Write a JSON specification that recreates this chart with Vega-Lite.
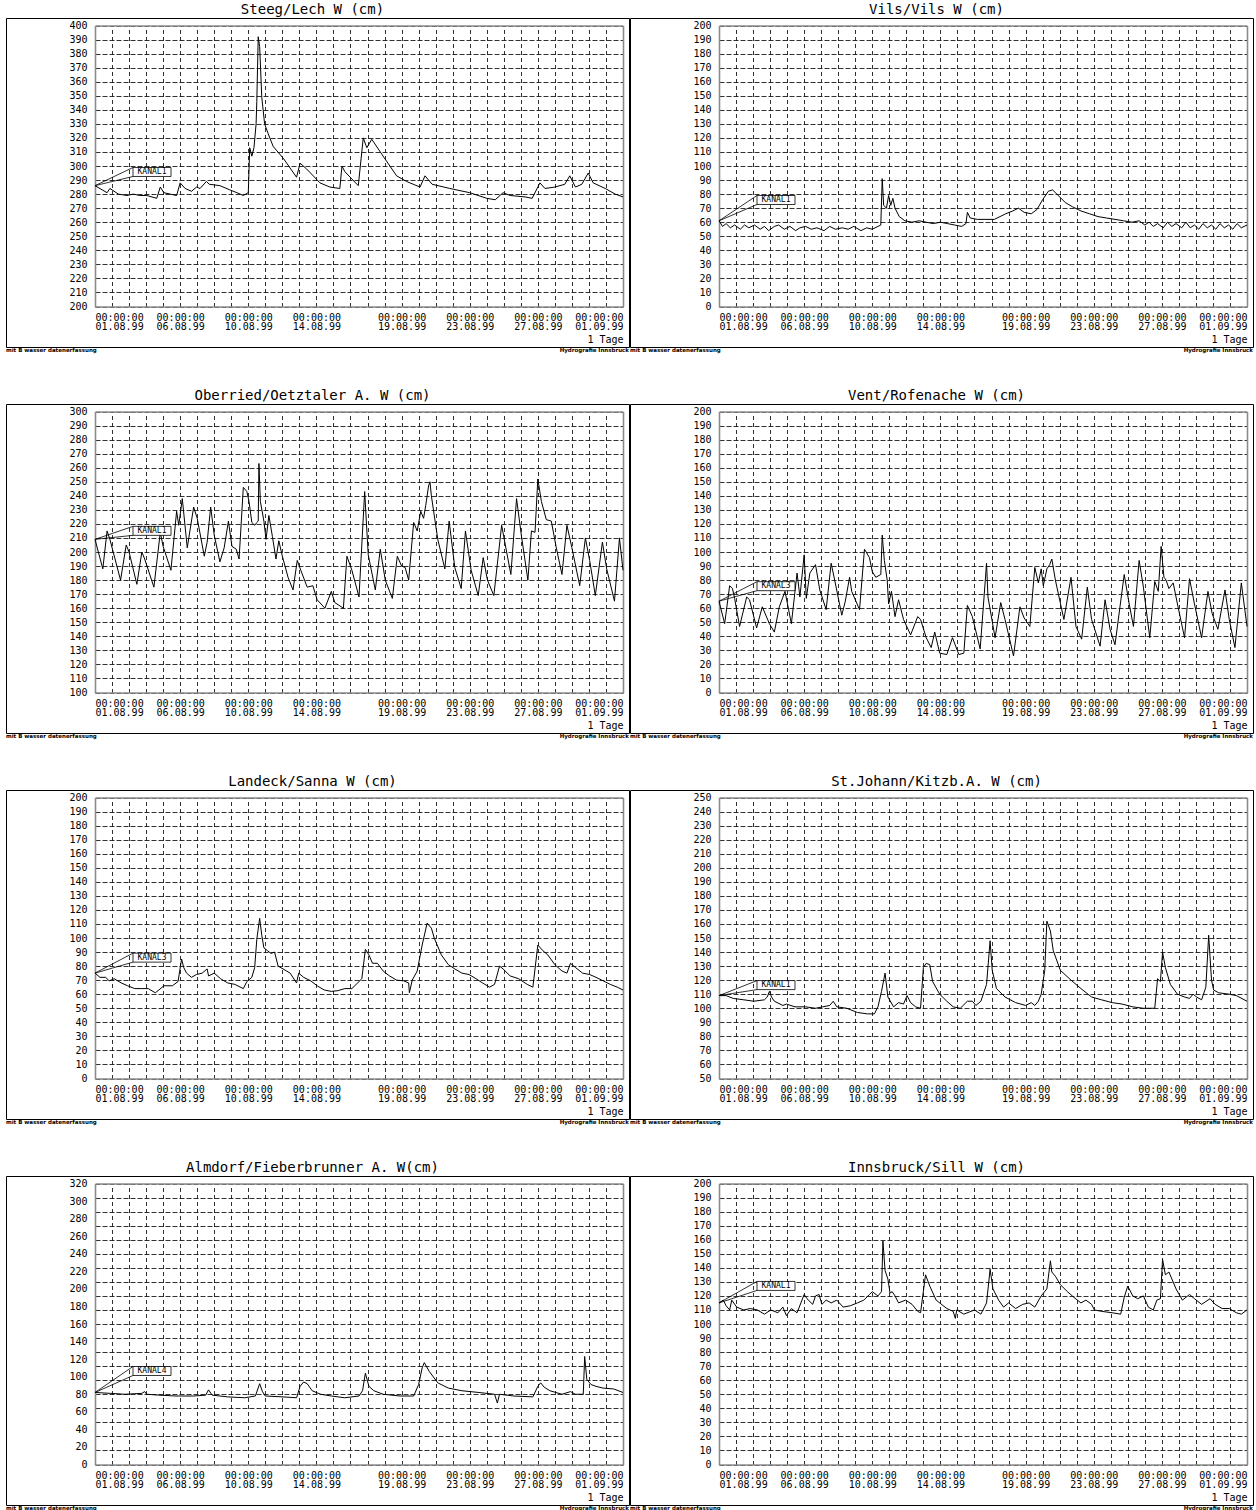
{
"$schema": "https://vega.github.io/schema/vega-lite/v6.json",
"padding": {"left": 5, "top": 0, "right": 0, "bottom": 0},
"background": "white",
"config": {
  "font": "DejaVu Sans Mono",
  "view": {"stroke": "black", "strokeWidth": 1},
  "axis": {"labelFont": "DejaVu Sans Mono", "titleFont": "DejaVu Sans Mono", "labelFontSize": 10, "labelColor": "black", "titleFontSize": 10, "titleFontWeight": "normal", "titleColor": "black", "ticks": false, "domainColor": "#8c8c8c", "domainWidth": 1.6, "gridColor": "#1a1a1a", "gridWidth": 0.9, "gridOpacity": 1}
},
"datasets": {
"steeg": [
{"t":"1999-08-01T00:00","w":286},{"t":"1999-08-01T17:00","w":281},{"t":"1999-08-01T21:00","w":284},{"t":"1999-08-02T09:00","w":280},{"t":"1999-08-02T21:00","w":279},{"t":"1999-08-03T06:00","w":280},{"t":"1999-08-03T15:00","w":279},{"t":"1999-08-04T01:00","w":279},{"t":"1999-08-04T15:00","w":277},{"t":"1999-08-04T20:00","w":285},{"t":"1999-08-05T01:00","w":281},{"t":"1999-08-05T10:00","w":280},{"t":"1999-08-05T19:00","w":279},{"t":"1999-08-06T00:00","w":288},{"t":"1999-08-06T07:00","w":284},{"t":"1999-08-06T16:00","w":282},{"t":"1999-08-06T23:00","w":285},{"t":"1999-08-07T04:00","w":284},{"t":"1999-08-07T13:00","w":289},{"t":"1999-08-07T17:00","w":287},{"t":"1999-08-08T08:00","w":286},{"t":"1999-08-08T22:00","w":283},{"t":"1999-08-09T08:00","w":281},{"t":"1999-08-09T17:00","w":279},{"t":"1999-08-10T00:00","w":281},{"t":"1999-08-10T02:00","w":313},{"t":"1999-08-10T05:00","w":307},{"t":"1999-08-10T08:00","w":313},{"t":"1999-08-10T11:00","w":330},{"t":"1999-08-10T12:00","w":346},{"t":"1999-08-10T14:00","w":392},{"t":"1999-08-10T16:00","w":385},{"t":"1999-08-10T19:00","w":349},{"t":"1999-08-10T23:00","w":330},{"t":"1999-08-11T04:00","w":323},{"t":"1999-08-11T11:00","w":314},{"t":"1999-08-12T02:00","w":305},{"t":"1999-08-12T20:00","w":292},{"t":"1999-08-13T01:00","w":302},{"t":"1999-08-13T10:00","w":298},{"t":"1999-08-14T05:00","w":288},{"t":"1999-08-14T19:00","w":285},{"t":"1999-08-15T09:00","w":284},{"t":"1999-08-15T12:00","w":300},{"t":"1999-08-15T16:00","w":296},{"t":"1999-08-16T11:00","w":286},{"t":"1999-08-16T18:00","w":320},{"t":"1999-08-16T23:00","w":313},{"t":"1999-08-17T06:00","w":319},{"t":"1999-08-17T22:00","w":307},{"t":"1999-08-18T17:00","w":293},{"t":"1999-08-19T07:00","w":289},{"t":"1999-08-20T02:00","w":285},{"t":"1999-08-20T09:00","w":293},{"t":"1999-08-20T19:00","w":287},{"t":"1999-08-21T20:00","w":284},{"t":"1999-08-23T00:00","w":281},{"t":"1999-08-24T00:00","w":277},{"t":"1999-08-24T12:00","w":276},{"t":"1999-08-24T23:00","w":281},{"t":"1999-08-25T09:00","w":279},{"t":"1999-08-26T06:00","w":278},{"t":"1999-08-26T16:00","w":277},{"t":"1999-08-27T03:00","w":288},{"t":"1999-08-27T10:00","w":284},{"t":"1999-08-28T00:00","w":285},{"t":"1999-08-28T14:00","w":287},{"t":"1999-08-28T21:00","w":293},{"t":"1999-08-29T05:00","w":285},{"t":"1999-08-29T14:00","w":287},{"t":"1999-08-29T23:00","w":295},{"t":"1999-08-30T06:00","w":288},{"t":"1999-08-30T23:00","w":284},{"t":"1999-08-31T13:00","w":280},{"t":"1999-09-01T00:00","w":278}
],
"vils": [
{"t":"1999-08-01T00:00","w":61},{"t":"1999-08-01T05:00","w":57},{"t":"1999-08-01T10:00","w":59},{"t":"1999-08-01T16:00","w":56},{"t":"1999-08-01T22:00","w":58},{"t":"1999-08-02T06:00","w":55},{"t":"1999-08-02T12:00","w":58},{"t":"1999-08-02T18:00","w":56},{"t":"1999-08-03T02:00","w":58},{"t":"1999-08-03T10:00","w":55},{"t":"1999-08-03T16:00","w":57},{"t":"1999-08-03T22:00","w":54},{"t":"1999-08-04T06:00","w":57},{"t":"1999-08-04T12:00","w":58},{"t":"1999-08-04T20:00","w":55},{"t":"1999-08-05T04:00","w":57},{"t":"1999-08-05T12:00","w":54},{"t":"1999-08-05T18:00","w":56},{"t":"1999-08-06T02:00","w":57},{"t":"1999-08-06T10:00","w":55},{"t":"1999-08-06T18:00","w":56},{"t":"1999-08-07T04:00","w":54},{"t":"1999-08-07T12:00","w":57},{"t":"1999-08-07T20:00","w":55},{"t":"1999-08-08T06:00","w":56},{"t":"1999-08-08T14:00","w":55},{"t":"1999-08-08T22:00","w":57},{"t":"1999-08-09T08:00","w":54},{"t":"1999-08-09T16:00","w":56},{"t":"1999-08-10T00:00","w":55},{"t":"1999-08-10T08:00","w":57},{"t":"1999-08-10T12:00","w":58},{"t":"1999-08-10T14:00","w":91},{"t":"1999-08-10T16:00","w":72},{"t":"1999-08-10T20:00","w":70},{"t":"1999-08-10T23:00","w":79},{"t":"1999-08-11T02:00","w":72},{"t":"1999-08-11T05:00","w":77},{"t":"1999-08-11T08:00","w":70},{"t":"1999-08-11T14:00","w":64},{"t":"1999-08-11T22:00","w":61},{"t":"1999-08-12T08:00","w":60},{"t":"1999-08-12T18:00","w":61},{"t":"1999-08-13T04:00","w":60},{"t":"1999-08-13T14:00","w":59},{"t":"1999-08-14T00:00","w":60},{"t":"1999-08-14T10:00","w":59},{"t":"1999-08-14T20:00","w":58},{"t":"1999-08-15T06:00","w":57},{"t":"1999-08-15T12:00","w":59},{"t":"1999-08-15T14:00","w":67},{"t":"1999-08-15T18:00","w":63},{"t":"1999-08-16T04:00","w":62},{"t":"1999-08-16T16:00","w":62},{"t":"1999-08-17T04:00","w":62},{"t":"1999-08-17T12:00","w":64},{"t":"1999-08-17T20:00","w":66},{"t":"1999-08-18T06:00","w":68},{"t":"1999-08-18T14:00","w":70},{"t":"1999-08-18T22:00","w":67},{"t":"1999-08-19T08:00","w":66},{"t":"1999-08-19T16:00","w":69},{"t":"1999-08-20T00:00","w":76},{"t":"1999-08-20T08:00","w":82},{"t":"1999-08-20T14:00","w":83},{"t":"1999-08-20T22:00","w":79},{"t":"1999-08-21T08:00","w":74},{"t":"1999-08-21T18:00","w":71},{"t":"1999-08-22T06:00","w":68},{"t":"1999-08-22T18:00","w":66},{"t":"1999-08-23T06:00","w":64},{"t":"1999-08-23T18:00","w":63},{"t":"1999-08-24T06:00","w":62},{"t":"1999-08-24T18:00","w":61},{"t":"1999-08-25T06:00","w":60},{"t":"1999-08-25T16:00","w":61},{"t":"1999-08-26T00:00","w":58},{"t":"1999-08-26T06:00","w":60},{"t":"1999-08-26T12:00","w":57},{"t":"1999-08-26T18:00","w":59},{"t":"1999-08-27T02:00","w":56},{"t":"1999-08-27T08:00","w":60},{"t":"1999-08-27T14:00","w":57},{"t":"1999-08-27T20:00","w":59},{"t":"1999-08-28T04:00","w":56},{"t":"1999-08-28T10:00","w":60},{"t":"1999-08-28T16:00","w":56},{"t":"1999-08-28T22:00","w":58},{"t":"1999-08-29T04:00","w":55},{"t":"1999-08-29T10:00","w":59},{"t":"1999-08-29T16:00","w":56},{"t":"1999-08-29T22:00","w":58},{"t":"1999-08-30T04:00","w":55},{"t":"1999-08-30T10:00","w":59},{"t":"1999-08-30T16:00","w":56},{"t":"1999-08-30T22:00","w":58},{"t":"1999-08-31T04:00","w":55},{"t":"1999-08-31T10:00","w":59},{"t":"1999-08-31T16:00","w":56},{"t":"1999-09-01T00:00","w":58}
],
"oberried": [
{"t":"1999-08-01T00:00","w":209},{"t":"1999-08-01T11:00","w":188},{"t":"1999-08-01T17:00","w":215},{"t":"1999-08-01T21:00","w":209},{"t":"1999-08-02T12:00","w":180},{"t":"1999-08-02T20:00","w":205},{"t":"1999-08-03T00:00","w":200},{"t":"1999-08-03T11:00","w":177},{"t":"1999-08-03T18:00","w":200},{"t":"1999-08-03T22:00","w":195},{"t":"1999-08-04T11:00","w":175},{"t":"1999-08-04T20:00","w":214},{"t":"1999-08-05T00:00","w":204},{"t":"1999-08-05T11:00","w":187},{"t":"1999-08-05T19:00","w":229},{"t":"1999-08-05T22:00","w":219},{"t":"1999-08-06T03:00","w":238},{"t":"1999-08-06T10:00","w":203},{"t":"1999-08-06T19:00","w":232},{"t":"1999-08-07T00:00","w":224},{"t":"1999-08-07T10:00","w":197},{"t":"1999-08-07T14:00","w":207},{"t":"1999-08-07T19:00","w":232},{"t":"1999-08-08T00:00","w":212},{"t":"1999-08-08T08:00","w":193},{"t":"1999-08-08T14:00","w":203},{"t":"1999-08-08T20:00","w":222},{"t":"1999-08-09T01:00","w":204},{"t":"1999-08-09T07:00","w":202},{"t":"1999-08-09T11:00","w":195},{"t":"1999-08-09T17:00","w":246},{"t":"1999-08-09T22:00","w":243},{"t":"1999-08-10T01:00","w":236},{"t":"1999-08-10T05:00","w":221},{"t":"1999-08-10T09:00","w":219},{"t":"1999-08-10T12:00","w":221},{"t":"1999-08-10T14:00","w":222},{"t":"1999-08-10T15:00","w":263},{"t":"1999-08-10T17:00","w":236},{"t":"1999-08-10T22:00","w":222},{"t":"1999-08-11T01:00","w":209},{"t":"1999-08-11T05:00","w":226},{"t":"1999-08-11T10:00","w":211},{"t":"1999-08-11T15:00","w":195},{"t":"1999-08-11T19:00","w":208},{"t":"1999-08-12T00:00","w":197},{"t":"1999-08-12T08:00","w":182},{"t":"1999-08-12T15:00","w":173},{"t":"1999-08-12T21:00","w":194},{"t":"1999-08-13T02:00","w":187},{"t":"1999-08-13T11:00","w":175},{"t":"1999-08-13T19:00","w":176},{"t":"1999-08-14T01:00","w":166},{"t":"1999-08-14T12:00","w":160},{"t":"1999-08-14T21:00","w":172},{"t":"1999-08-15T02:00","w":164},{"t":"1999-08-15T14:00","w":160},{"t":"1999-08-15T19:00","w":197},{"t":"1999-08-16T02:00","w":187},{"t":"1999-08-16T12:00","w":168},{"t":"1999-08-16T20:00","w":243},{"t":"1999-08-17T01:00","w":198},{"t":"1999-08-17T11:00","w":173},{"t":"1999-08-17T18:00","w":202},{"t":"1999-08-18T01:00","w":180},{"t":"1999-08-18T11:00","w":167},{"t":"1999-08-18T18:00","w":197},{"t":"1999-08-19T00:00","w":190},{"t":"1999-08-19T05:00","w":189},{"t":"1999-08-19T10:00","w":180},{"t":"1999-08-19T17:00","w":221},{"t":"1999-08-19T22:00","w":215},{"t":"1999-08-20T03:00","w":229},{"t":"1999-08-20T07:00","w":224},{"t":"1999-08-20T10:00","w":233},{"t":"1999-08-20T14:00","w":247},{"t":"1999-08-20T16:00","w":250},{"t":"1999-08-20T18:00","w":240},{"t":"1999-08-21T03:00","w":209},{"t":"1999-08-21T13:00","w":188},{"t":"1999-08-21T19:00","w":222},{"t":"1999-08-22T03:00","w":189},{"t":"1999-08-22T12:00","w":174},{"t":"1999-08-22T18:00","w":215},{"t":"1999-08-23T02:00","w":187},{"t":"1999-08-23T12:00","w":169},{"t":"1999-08-23T19:00","w":196},{"t":"1999-08-24T01:00","w":180},{"t":"1999-08-24T10:00","w":169},{"t":"1999-08-24T21:00","w":219},{"t":"1999-08-25T10:00","w":184},{"t":"1999-08-25T18:00","w":238},{"t":"1999-08-26T01:00","w":211},{"t":"1999-08-26T10:00","w":180},{"t":"1999-08-26T15:00","w":215},{"t":"1999-08-26T20:00","w":214},{"t":"1999-08-27T00:00","w":252},{"t":"1999-08-27T05:00","w":236},{"t":"1999-08-27T12:00","w":223},{"t":"1999-08-27T19:00","w":222},{"t":"1999-08-28T02:00","w":203},{"t":"1999-08-28T10:00","w":184},{"t":"1999-08-28T17:00","w":219},{"t":"1999-08-29T00:00","w":203},{"t":"1999-08-29T11:00","w":176},{"t":"1999-08-29T19:00","w":210},{"t":"1999-08-30T01:00","w":194},{"t":"1999-08-30T09:00","w":169},{"t":"1999-08-30T19:00","w":207},{"t":"1999-08-31T01:00","w":188},{"t":"1999-08-31T12:00","w":165},{"t":"1999-08-31T19:00","w":210},{"t":"1999-09-01T00:00","w":187}
],
"vent": [
{"t":"1999-08-01T00:00","w":65},{"t":"1999-08-01T08:00","w":49},{"t":"1999-08-01T15:00","w":76},{"t":"1999-08-01T19:00","w":74},{"t":"1999-08-01T22:00","w":67},{"t":"1999-08-02T05:00","w":47},{"t":"1999-08-02T15:00","w":68},{"t":"1999-08-02T19:00","w":66},{"t":"1999-08-03T05:00","w":46},{"t":"1999-08-03T13:00","w":61},{"t":"1999-08-03T23:00","w":49},{"t":"1999-08-04T06:00","w":43},{"t":"1999-08-04T13:00","w":61},{"t":"1999-08-04T21:00","w":72},{"t":"1999-08-05T06:00","w":49},{"t":"1999-08-05T14:00","w":85},{"t":"1999-08-05T18:00","w":68},{"t":"1999-08-06T00:00","w":98},{"t":"1999-08-06T03:00","w":67},{"t":"1999-08-06T08:00","w":85},{"t":"1999-08-06T16:00","w":91},{"t":"1999-08-06T22:00","w":73},{"t":"1999-08-07T07:00","w":59},{"t":"1999-08-07T14:00","w":92},{"t":"1999-08-07T19:00","w":80},{"t":"1999-08-08T05:00","w":55},{"t":"1999-08-08T10:00","w":65},{"t":"1999-08-08T16:00","w":82},{"t":"1999-08-08T19:00","w":72},{"t":"1999-08-09T06:00","w":59},{"t":"1999-08-09T13:00","w":102},{"t":"1999-08-09T20:00","w":96},{"t":"1999-08-10T00:00","w":86},{"t":"1999-08-10T05:00","w":82},{"t":"1999-08-10T12:00","w":84},{"t":"1999-08-10T14:00","w":112},{"t":"1999-08-10T17:00","w":94},{"t":"1999-08-10T21:00","w":80},{"t":"1999-08-10T23:00","w":63},{"t":"1999-08-11T03:00","w":72},{"t":"1999-08-11T08:00","w":54},{"t":"1999-08-11T13:00","w":66},{"t":"1999-08-11T20:00","w":52},{"t":"1999-08-12T06:00","w":41},{"t":"1999-08-12T16:00","w":54},{"t":"1999-08-12T20:00","w":52},{"t":"1999-08-13T04:00","w":39},{"t":"1999-08-13T11:00","w":32},{"t":"1999-08-13T16:00","w":43},{"t":"1999-08-13T23:00","w":28},{"t":"1999-08-14T09:00","w":27},{"t":"1999-08-14T17:00","w":39},{"t":"1999-08-15T02:00","w":27},{"t":"1999-08-15T09:00","w":28},{"t":"1999-08-15T14:00","w":62},{"t":"1999-08-15T21:00","w":54},{"t":"1999-08-16T08:00","w":31},{"t":"1999-08-16T17:00","w":92},{"t":"1999-08-16T19:00","w":68},{"t":"1999-08-17T05:00","w":39},{"t":"1999-08-17T13:00","w":64},{"t":"1999-08-17T19:00","w":52},{"t":"1999-08-18T07:00","w":26},{"t":"1999-08-18T16:00","w":61},{"t":"1999-08-18T22:00","w":53},{"t":"1999-08-19T06:00","w":47},{"t":"1999-08-19T13:00","w":89},{"t":"1999-08-19T18:00","w":78},{"t":"1999-08-19T22:00","w":88},{"t":"1999-08-20T01:00","w":76},{"t":"1999-08-20T06:00","w":88},{"t":"1999-08-20T10:00","w":91},{"t":"1999-08-20T13:00","w":95},{"t":"1999-08-20T18:00","w":80},{"t":"1999-08-21T06:00","w":52},{"t":"1999-08-21T16:00","w":82},{"t":"1999-08-21T23:00","w":47},{"t":"1999-08-22T07:00","w":38},{"t":"1999-08-22T15:00","w":75},{"t":"1999-08-22T21:00","w":52},{"t":"1999-08-23T09:00","w":33},{"t":"1999-08-23T16:00","w":66},{"t":"1999-08-23T23:00","w":45},{"t":"1999-08-24T06:00","w":34},{"t":"1999-08-24T19:00","w":84},{"t":"1999-08-25T02:00","w":63},{"t":"1999-08-25T08:00","w":47},{"t":"1999-08-25T16:00","w":94},{"t":"1999-08-25T22:00","w":75},{"t":"1999-08-26T07:00","w":39},{"t":"1999-08-26T14:00","w":79},{"t":"1999-08-26T19:00","w":72},{"t":"1999-08-26T23:00","w":104},{"t":"1999-08-27T03:00","w":82},{"t":"1999-08-27T06:00","w":80},{"t":"1999-08-27T10:00","w":74},{"t":"1999-08-27T16:00","w":78},{"t":"1999-08-27T22:00","w":63},{"t":"1999-08-28T08:00","w":39},{"t":"1999-08-28T15:00","w":81},{"t":"1999-08-28T22:00","w":63},{"t":"1999-08-29T08:00","w":39},{"t":"1999-08-29T17:00","w":72},{"t":"1999-08-29T23:00","w":56},{"t":"1999-08-30T07:00","w":45},{"t":"1999-08-30T17:00","w":73},{"t":"1999-08-30T23:00","w":52},{"t":"1999-08-31T07:00","w":32},{"t":"1999-08-31T16:00","w":78},{"t":"1999-09-01T00:00","w":47}
],
"landeck": [
{"t":"1999-08-01T00:00","w":75},{"t":"1999-08-01T07:00","w":72},{"t":"1999-08-01T15:00","w":72},{"t":"1999-08-01T20:00","w":69.5},{"t":"1999-08-02T03:00","w":71},{"t":"1999-08-02T13:00","w":68},{"t":"1999-08-02T22:00","w":66},{"t":"1999-08-03T08:00","w":64},{"t":"1999-08-03T18:00","w":64},{"t":"1999-08-04T03:00","w":64},{"t":"1999-08-04T13:00","w":61},{"t":"1999-08-04T18:00","w":63},{"t":"1999-08-05T01:00","w":66},{"t":"1999-08-05T13:00","w":66},{"t":"1999-08-05T21:00","w":69},{"t":"1999-08-06T02:00","w":85},{"t":"1999-08-06T05:00","w":79},{"t":"1999-08-06T09:00","w":75},{"t":"1999-08-06T16:00","w":72},{"t":"1999-08-06T23:00","w":74},{"t":"1999-08-07T07:00","w":75},{"t":"1999-08-07T14:00","w":78},{"t":"1999-08-07T16:00","w":73},{"t":"1999-08-08T00:00","w":75},{"t":"1999-08-08T09:00","w":71},{"t":"1999-08-08T19:00","w":68},{"t":"1999-08-09T05:00","w":67},{"t":"1999-08-09T17:00","w":64},{"t":"1999-08-09T22:00","w":69},{"t":"1999-08-10T05:00","w":72},{"t":"1999-08-10T09:00","w":79},{"t":"1999-08-10T12:00","w":99},{"t":"1999-08-10T16:00","w":114},{"t":"1999-08-10T19:00","w":102},{"t":"1999-08-10T22:00","w":93},{"t":"1999-08-11T03:00","w":91},{"t":"1999-08-11T08:00","w":89},{"t":"1999-08-11T13:00","w":90},{"t":"1999-08-11T18:00","w":80},{"t":"1999-08-12T01:00","w":78},{"t":"1999-08-12T11:00","w":75},{"t":"1999-08-12T20:00","w":68},{"t":"1999-08-12T23:00","w":75},{"t":"1999-08-13T06:00","w":72},{"t":"1999-08-13T16:00","w":69.5},{"t":"1999-08-14T01:00","w":66},{"t":"1999-08-14T11:00","w":63},{"t":"1999-08-14T21:00","w":62},{"t":"1999-08-15T06:00","w":62.5},{"t":"1999-08-15T16:00","w":64},{"t":"1999-08-16T02:00","w":64},{"t":"1999-08-16T16:00","w":71},{"t":"1999-08-16T21:00","w":92},{"t":"1999-08-17T02:00","w":88},{"t":"1999-08-17T07:00","w":82},{"t":"1999-08-17T14:00","w":82},{"t":"1999-08-17T22:00","w":76.5},{"t":"1999-08-18T07:00","w":73},{"t":"1999-08-18T17:00","w":70},{"t":"1999-08-19T03:00","w":69.5},{"t":"1999-08-19T10:00","w":68},{"t":"1999-08-19T11:00","w":61},{"t":"1999-08-19T15:00","w":70},{"t":"1999-08-19T22:00","w":76.5},{"t":"1999-08-20T05:00","w":95},{"t":"1999-08-20T12:00","w":110.6},{"t":"1999-08-20T18:00","w":107},{"t":"1999-08-20T22:00","w":100},{"t":"1999-08-21T08:00","w":88},{"t":"1999-08-21T18:00","w":81},{"t":"1999-08-22T03:00","w":78},{"t":"1999-08-22T13:00","w":75},{"t":"1999-08-22T23:00","w":74},{"t":"1999-08-23T09:00","w":71},{"t":"1999-08-23T18:00","w":68},{"t":"1999-08-24T04:00","w":65},{"t":"1999-08-24T11:00","w":67},{"t":"1999-08-24T18:00","w":80},{"t":"1999-08-24T23:00","w":78},{"t":"1999-08-25T09:00","w":73},{"t":"1999-08-25T21:00","w":71},{"t":"1999-08-26T09:00","w":67},{"t":"1999-08-26T17:00","w":65},{"t":"1999-08-27T00:00","w":95},{"t":"1999-08-27T07:00","w":91},{"t":"1999-08-27T14:00","w":88},{"t":"1999-08-28T00:00","w":81},{"t":"1999-08-28T10:00","w":76.5},{"t":"1999-08-28T17:00","w":75},{"t":"1999-08-28T22:00","w":82},{"t":"1999-08-29T05:00","w":79},{"t":"1999-08-29T15:00","w":75},{"t":"1999-08-30T01:00","w":74},{"t":"1999-08-30T10:00","w":72},{"t":"1999-08-30T20:00","w":69.5},{"t":"1999-08-31T06:00","w":67},{"t":"1999-08-31T16:00","w":65},{"t":"1999-09-01T00:00","w":63}
],
"stjohann": [
{"t":"1999-08-01T00:00","w":109},{"t":"1999-08-01T10:00","w":109},{"t":"1999-08-01T20:00","w":107},{"t":"1999-08-02T11:00","w":106},{"t":"1999-08-03T01:00","w":105},{"t":"1999-08-03T16:00","w":106},{"t":"1999-08-03T20:00","w":108},{"t":"1999-08-03T23:00","w":112},{"t":"1999-08-04T02:00","w":108},{"t":"1999-08-04T06:00","w":105},{"t":"1999-08-04T18:00","w":102},{"t":"1999-08-04T23:00","w":103},{"t":"1999-08-05T11:00","w":101},{"t":"1999-08-06T02:00","w":101},{"t":"1999-08-06T16:00","w":100},{"t":"1999-08-07T02:00","w":101},{"t":"1999-08-07T12:00","w":102},{"t":"1999-08-07T17:00","w":105},{"t":"1999-08-07T22:00","w":101},{"t":"1999-08-08T12:00","w":100},{"t":"1999-08-09T03:00","w":97},{"t":"1999-08-09T17:00","w":96},{"t":"1999-08-10T03:00","w":96},{"t":"1999-08-10T08:00","w":101},{"t":"1999-08-10T13:00","w":112},{"t":"1999-08-10T18:00","w":125},{"t":"1999-08-10T22:00","w":108},{"t":"1999-08-11T06:00","w":101},{"t":"1999-08-11T13:00","w":104},{"t":"1999-08-11T20:00","w":103},{"t":"1999-08-12T01:00","w":109},{"t":"1999-08-12T06:00","w":104},{"t":"1999-08-12T13:00","w":101},{"t":"1999-08-12T20:00","w":100},{"t":"1999-08-13T00:00","w":129},{"t":"1999-08-13T04:00","w":132},{"t":"1999-08-13T09:00","w":131},{"t":"1999-08-13T13:00","w":119},{"t":"1999-08-13T23:00","w":110},{"t":"1999-08-14T09:00","w":105},{"t":"1999-08-14T18:00","w":101},{"t":"1999-08-15T04:00","w":100},{"t":"1999-08-15T14:00","w":105},{"t":"1999-08-15T21:00","w":105},{"t":"1999-08-16T02:00","w":102},{"t":"1999-08-16T09:00","w":105},{"t":"1999-08-16T17:00","w":117},{"t":"1999-08-16T22:00","w":148},{"t":"1999-08-17T01:00","w":127},{"t":"1999-08-17T07:00","w":114},{"t":"1999-08-17T19:00","w":108},{"t":"1999-08-18T10:00","w":104},{"t":"1999-08-19T00:00","w":102},{"t":"1999-08-19T08:00","w":104},{"t":"1999-08-19T13:00","w":102},{"t":"1999-08-19T18:00","w":105},{"t":"1999-08-19T22:00","w":110},{"t":"1999-08-20T03:00","w":127},{"t":"1999-08-20T06:00","w":162},{"t":"1999-08-20T11:00","w":155},{"t":"1999-08-20T15:00","w":141},{"t":"1999-08-21T01:00","w":127},{"t":"1999-08-21T16:00","w":120},{"t":"1999-08-22T06:00","w":114},{"t":"1999-08-22T21:00","w":108},{"t":"1999-08-23T11:00","w":106},{"t":"1999-08-24T02:00","w":104},{"t":"1999-08-24T16:00","w":103},{"t":"1999-08-25T07:00","w":101},{"t":"1999-08-25T22:00","w":100},{"t":"1999-08-26T14:00","w":100},{"t":"1999-08-26T18:00","w":121},{"t":"1999-08-26T22:00","w":119},{"t":"1999-08-27T01:00","w":140},{"t":"1999-08-27T05:00","w":129},{"t":"1999-08-27T12:00","w":117},{"t":"1999-08-27T22:00","w":110},{"t":"1999-08-28T08:00","w":108},{"t":"1999-08-28T15:00","w":107},{"t":"1999-08-28T20:00","w":110},{"t":"1999-08-29T01:00","w":108},{"t":"1999-08-29T08:00","w":106},{"t":"1999-08-29T14:00","w":115},{"t":"1999-08-29T18:00","w":152},{"t":"1999-08-29T22:00","w":120},{"t":"1999-08-30T01:00","w":113},{"t":"1999-08-30T08:00","w":111},{"t":"1999-08-30T23:00","w":110},{"t":"1999-08-31T09:00","w":109},{"t":"1999-09-01T00:00","w":105}
],
"almdorf": [
{"t":"1999-08-01T00:00","w":82},{"t":"1999-08-01T22:00","w":81},{"t":"1999-08-02T18:00","w":80},{"t":"1999-08-03T18:00","w":81},{"t":"1999-08-03T22:00","w":83},{"t":"1999-08-04T01:00","w":80},{"t":"1999-08-04T18:00","w":79},{"t":"1999-08-05T18:00","w":78},{"t":"1999-08-06T19:00","w":78},{"t":"1999-08-07T12:00","w":79},{"t":"1999-08-07T16:00","w":85},{"t":"1999-08-07T21:00","w":79},{"t":"1999-08-08T19:00","w":77},{"t":"1999-08-09T19:00","w":76},{"t":"1999-08-10T10:00","w":78},{"t":"1999-08-10T16:00","w":92},{"t":"1999-08-10T20:00","w":83},{"t":"1999-08-11T00:00","w":78},{"t":"1999-08-12T01:00","w":77},{"t":"1999-08-12T20:00","w":76},{"t":"1999-08-13T01:00","w":89},{"t":"1999-08-13T06:00","w":94},{"t":"1999-08-13T11:00","w":92},{"t":"1999-08-13T18:00","w":84},{"t":"1999-08-14T06:00","w":80},{"t":"1999-08-14T21:00","w":78},{"t":"1999-08-15T16:00","w":76},{"t":"1999-08-16T12:00","w":78},{"t":"1999-08-16T17:00","w":84},{"t":"1999-08-16T21:00","w":104},{"t":"1999-08-17T02:00","w":89},{"t":"1999-08-17T09:00","w":84},{"t":"1999-08-17T22:00","w":80},{"t":"1999-08-18T22:00","w":78},{"t":"1999-08-19T17:00","w":78},{"t":"1999-08-20T00:00","w":91},{"t":"1999-08-20T05:00","w":110},{"t":"1999-08-20T08:00","w":116},{"t":"1999-08-20T15:00","w":106},{"t":"1999-08-21T03:00","w":93},{"t":"1999-08-21T18:00","w":87},{"t":"1999-08-22T13:00","w":84},{"t":"1999-08-23T13:00","w":82},{"t":"1999-08-24T11:00","w":80},{"t":"1999-08-24T15:00","w":70},{"t":"1999-08-24T18:00","w":80},{"t":"1999-08-25T14:00","w":78},{"t":"1999-08-26T17:00","w":77},{"t":"1999-08-27T00:00","w":89},{"t":"1999-08-27T04:00","w":93},{"t":"1999-08-27T09:00","w":88},{"t":"1999-08-27T17:00","w":84},{"t":"1999-08-28T10:00","w":80},{"t":"1999-08-28T22:00","w":83},{"t":"1999-08-29T05:00","w":80},{"t":"1999-08-29T16:00","w":80},{"t":"1999-08-29T18:00","w":123},{"t":"1999-08-29T21:00","w":97},{"t":"1999-08-30T03:00","w":91},{"t":"1999-08-30T10:00","w":89},{"t":"1999-08-30T20:00","w":87},{"t":"1999-08-31T11:00","w":86},{"t":"1999-09-01T00:00","w":82}
],
"innsbruck": [
{"t":"1999-08-01T00:00","w":115},{"t":"1999-08-01T06:00","w":117},{"t":"1999-08-01T10:00","w":113},{"t":"1999-08-01T15:00","w":110},{"t":"1999-08-01T18:00","w":117},{"t":"1999-08-02T01:00","w":112},{"t":"1999-08-02T11:00","w":110},{"t":"1999-08-02T20:00","w":111},{"t":"1999-08-03T06:00","w":110},{"t":"1999-08-03T16:00","w":107},{"t":"1999-08-04T01:00","w":110},{"t":"1999-08-04T11:00","w":108},{"t":"1999-08-04T18:00","w":112},{"t":"1999-08-04T23:00","w":106},{"t":"1999-08-05T06:00","w":111},{"t":"1999-08-05T14:00","w":108},{"t":"1999-08-06T00:00","w":121},{"t":"1999-08-06T04:00","w":118},{"t":"1999-08-06T12:00","w":114},{"t":"1999-08-06T16:00","w":120},{"t":"1999-08-06T21:00","w":121},{"t":"1999-08-07T01:00","w":114},{"t":"1999-08-07T07:00","w":117},{"t":"1999-08-07T14:00","w":115},{"t":"1999-08-07T22:00","w":117},{"t":"1999-08-08T07:00","w":112},{"t":"1999-08-08T17:00","w":113},{"t":"1999-08-09T03:00","w":115},{"t":"1999-08-09T12:00","w":117},{"t":"1999-08-09T20:00","w":121},{"t":"1999-08-10T00:00","w":123},{"t":"1999-08-10T08:00","w":120},{"t":"1999-08-10T13:00","w":123},{"t":"1999-08-10T15:00","w":159},{"t":"1999-08-10T18:00","w":138},{"t":"1999-08-10T22:00","w":132},{"t":"1999-08-11T01:00","w":122},{"t":"1999-08-11T04:00","w":123},{"t":"1999-08-11T08:00","w":120},{"t":"1999-08-11T13:00","w":115},{"t":"1999-08-11T23:00","w":117},{"t":"1999-08-12T08:00","w":114},{"t":"1999-08-12T16:00","w":109},{"t":"1999-08-12T20:00","w":108},{"t":"1999-08-13T03:00","w":135},{"t":"1999-08-13T09:00","w":127},{"t":"1999-08-13T18:00","w":117},{"t":"1999-08-14T09:00","w":111},{"t":"1999-08-14T18:00","w":109},{"t":"1999-08-14T21:00","w":104},{"t":"1999-08-14T23:00","w":110},{"t":"1999-08-15T09:00","w":107},{"t":"1999-08-16T00:00","w":110},{"t":"1999-08-16T09:00","w":107},{"t":"1999-08-16T17:00","w":115},{"t":"1999-08-16T22:00","w":139},{"t":"1999-08-17T02:00","w":125},{"t":"1999-08-17T10:00","w":117},{"t":"1999-08-17T17:00","w":112},{"t":"1999-08-18T00:00","w":115},{"t":"1999-08-18T10:00","w":111},{"t":"1999-08-18T20:00","w":114},{"t":"1999-08-19T05:00","w":115},{"t":"1999-08-19T13:00","w":112},{"t":"1999-08-19T22:00","w":120},{"t":"1999-08-20T06:00","w":125},{"t":"1999-08-20T11:00","w":145},{"t":"1999-08-20T13:00","w":137},{"t":"1999-08-20T18:00","w":134},{"t":"1999-08-21T01:00","w":128},{"t":"1999-08-21T11:00","w":123},{"t":"1999-08-21T20:00","w":119},{"t":"1999-08-22T06:00","w":115},{"t":"1999-08-22T13:00","w":117},{"t":"1999-08-22T21:00","w":114},{"t":"1999-08-23T01:00","w":110},{"t":"1999-08-23T11:00","w":109},{"t":"1999-08-24T02:00","w":108},{"t":"1999-08-24T14:00","w":107},{"t":"1999-08-24T19:00","w":119},{"t":"1999-08-25T00:00","w":127},{"t":"1999-08-25T07:00","w":120},{"t":"1999-08-25T14:00","w":118},{"t":"1999-08-25T22:00","w":120},{"t":"1999-08-26T05:00","w":112},{"t":"1999-08-26T12:00","w":110},{"t":"1999-08-26T17:00","w":117},{"t":"1999-08-26T22:00","w":118},{"t":"1999-08-27T01:00","w":146},{"t":"1999-08-27T05:00","w":135},{"t":"1999-08-27T10:00","w":137},{"t":"1999-08-27T20:00","w":125},{"t":"1999-08-28T05:00","w":117},{"t":"1999-08-28T15:00","w":121},{"t":"1999-08-28T22:00","w":118},{"t":"1999-08-29T08:00","w":114},{"t":"1999-08-29T20:00","w":118},{"t":"1999-08-30T03:00","w":114},{"t":"1999-08-30T13:00","w":111},{"t":"1999-08-30T23:00","w":111},{"t":"1999-08-31T09:00","w":108},{"t":"1999-08-31T16:00","w":107},{"t":"1999-09-01T00:00","w":110}
]
},
"spacing": 32,
"vconcat": [
{"hconcat": [
{"spacing": 0, "vconcat": [
  {"width": 623, "height": 16, "data": {"values": [{"title": "Steeg/Lech W (cm)"}]}, "mark": {"type": "text", "fontSize": 14, "dy": 1.5, "dx": -5, "color": "black"}, "encoding": {"text": {"field": "title"}}},
  {"width": 623, "height": 329, "data": {"values": [{"t": "1999-08-01T00:00", "w": 286, "k": "KANAL1"}]},
   "layer": [
    {"data": {"name": "steeg"}, "mark": {"type": "line", "color": "black", "strokeWidth": 1},
     "encoding": {
      "x": {"field": "t", "type": "temporal", "scale": {"domain": [{"year": 1999, "month": 8, "date": 1}, {"year": 1999, "month": 9, "date": 1}], "range": [89, 617]}, "axis": {"orient": "top", "offset": -7.5, "grid": true, "gridDash": [4, 3], "tickCount": {"interval": "day", "step": 1}, "labels": false, "title": null}},
      "y": {"field": "w", "type": "quantitative", "scale": {"domain": [200, 400], "range": [288.5, 7.5], "nice": false, "zero": false}, "axis": {"orient": "left", "offset": -89, "grid": true, "gridDash": [5, 2], "tickCount": 20, "labelPadding": 8, "title": null}}
     }},
    {"mark": {"type": "rule", "color": "black", "strokeWidth": 0.8, "x2Offset": 38, "y2Offset": -18.2}, "encoding": {"x": {"field": "t", "type": "temporal", "axis": null}, "x2": {"field": "t"}, "y": {"field": "w", "type": "quantitative", "axis": null}, "y2": {"field": "w"}}},
    {"mark": {"type": "rule", "color": "black", "strokeWidth": 0.8, "x2Offset": 38, "y2Offset": -9.2}, "encoding": {"x": {"field": "t", "type": "temporal", "axis": null}, "x2": {"field": "t"}, "y": {"field": "w", "type": "quantitative", "axis": null}, "y2": {"field": "w"}}},
    {"mark": {"type": "rect", "fill": "white", "stroke": "black", "strokeWidth": 0.8, "xOffset": 38, "x2Offset": 76, "yOffset": -18.2, "y2Offset": -9.2},
     "encoding": {
      "x": {"field": "t", "type": "temporal", "axis": {"orient": "bottom", "offset": -40.5, "values": [{"year": 1999, "month": 8, "date": 1}, {"year": 1999, "month": 8, "date": 6}, {"year": 1999, "month": 8, "date": 10}, {"year": 1999, "month": 8, "date": 14}, {"year": 1999, "month": 8, "date": 19}, {"year": 1999, "month": 8, "date": 23}, {"year": 1999, "month": 8, "date": 27}, {"year": 1999, "month": 9, "date": 1}], "labelExpr": "['00:00:00', timeFormat(datum.value, '%d.%m.%y')]", "labelFlush": true, "labelOverlap": false, "labelPadding": 6, "labelLineHeight": 8.5, "grid": false, "title": "1 Tage", "titleAnchor": "end", "titleAlign": "right", "titlePadding": 3}},
      "x2": {"field": "t"},
      "y": {"field": "w", "type": "quantitative", "axis": {"orient": "right", "offset": -6, "labels": false, "grid": false, "title": null}},
      "y2": {"field": "w"}
     }},
    {"mark": {"type": "text", "fontSize": 8, "dx": 57, "dy": -13.7, "color": "black"}, "encoding": {"x": {"field": "t", "type": "temporal", "axis": null}, "y": {"field": "w", "type": "quantitative", "axis": null}, "text": {"field": "k"}}}
   ],
   "resolve": {"axis": {"x": "independent", "y": "independent"}}},
  {"width": 623, "height": 6, "view": {"stroke": null}, "data": {"values": [{"s": "L", "txt": "mit B wasser datenerfassung"}, {"s": "R", "txt": "Hydrografie Innsbruck"}]}, "mark": {"type": "text", "font": "DejaVu Sans", "fontSize": 5.5, "fontWeight": "bold", "dy": -1, "color": "black", "align": {"expr": "datum.s == 'L' ? 'left' : 'right'"}}, "encoding": {"x": {"field": "s", "type": "nominal", "scale": {"type": "point", "domain": ["L", "R"], "padding": 0}, "axis": null}, "text": {"field": "txt"}}}
]},
{"spacing": 0, "vconcat": [
  {"width": 623, "height": 16, "data": {"values": [{"title": "Vils/Vils W (cm)"}]}, "mark": {"type": "text", "fontSize": 14, "dy": 1.5, "dx": -5, "color": "black"}, "encoding": {"text": {"field": "title"}}},
  {"width": 623, "height": 329, "data": {"values": [{"t": "1999-08-01T00:00", "w": 61, "k": "KANAL1"}]},
   "layer": [
    {"data": {"name": "vils"}, "mark": {"type": "line", "color": "black", "strokeWidth": 1},
     "encoding": {
      "x": {"field": "t", "type": "temporal", "scale": {"domain": [{"year": 1999, "month": 8, "date": 1}, {"year": 1999, "month": 9, "date": 1}], "range": [89, 617]}, "axis": {"orient": "top", "offset": -7.5, "grid": true, "gridDash": [4, 3], "tickCount": {"interval": "day", "step": 1}, "labels": false, "title": null}},
      "y": {"field": "w", "type": "quantitative", "scale": {"domain": [0, 200], "range": [288.5, 7.5], "nice": false, "zero": false}, "axis": {"orient": "left", "offset": -89, "grid": true, "gridDash": [5, 2], "tickCount": 20, "labelPadding": 8, "title": null}}
     }},
    {"mark": {"type": "rule", "color": "black", "strokeWidth": 0.8, "x2Offset": 38, "y2Offset": -25.3}, "encoding": {"x": {"field": "t", "type": "temporal", "axis": null}, "x2": {"field": "t"}, "y": {"field": "w", "type": "quantitative", "axis": null}, "y2": {"field": "w"}}},
    {"mark": {"type": "rule", "color": "black", "strokeWidth": 0.8, "x2Offset": 38, "y2Offset": -16.3}, "encoding": {"x": {"field": "t", "type": "temporal", "axis": null}, "x2": {"field": "t"}, "y": {"field": "w", "type": "quantitative", "axis": null}, "y2": {"field": "w"}}},
    {"mark": {"type": "rect", "fill": "white", "stroke": "black", "strokeWidth": 0.8, "xOffset": 38, "x2Offset": 76, "yOffset": -25.3, "y2Offset": -16.3},
     "encoding": {
      "x": {"field": "t", "type": "temporal", "axis": {"orient": "bottom", "offset": -40.5, "values": [{"year": 1999, "month": 8, "date": 1}, {"year": 1999, "month": 8, "date": 6}, {"year": 1999, "month": 8, "date": 10}, {"year": 1999, "month": 8, "date": 14}, {"year": 1999, "month": 8, "date": 19}, {"year": 1999, "month": 8, "date": 23}, {"year": 1999, "month": 8, "date": 27}, {"year": 1999, "month": 9, "date": 1}], "labelExpr": "['00:00:00', timeFormat(datum.value, '%d.%m.%y')]", "labelFlush": true, "labelOverlap": false, "labelPadding": 6, "labelLineHeight": 8.5, "grid": false, "title": "1 Tage", "titleAnchor": "end", "titleAlign": "right", "titlePadding": 3}},
      "x2": {"field": "t"},
      "y": {"field": "w", "type": "quantitative", "axis": {"orient": "right", "offset": -6, "labels": false, "grid": false, "title": null}},
      "y2": {"field": "w"}
     }},
    {"mark": {"type": "text", "fontSize": 8, "dx": 57, "dy": -20.8, "color": "black"}, "encoding": {"x": {"field": "t", "type": "temporal", "axis": null}, "y": {"field": "w", "type": "quantitative", "axis": null}, "text": {"field": "k"}}}
   ],
   "resolve": {"axis": {"x": "independent", "y": "independent"}}},
  {"width": 623, "height": 6, "view": {"stroke": null}, "data": {"values": [{"s": "L", "txt": "mit B wasser datenerfassung"}, {"s": "R", "txt": "Hydrografie Innsbruck"}]}, "mark": {"type": "text", "font": "DejaVu Sans", "fontSize": 5.5, "fontWeight": "bold", "dy": -1, "color": "black", "align": {"expr": "datum.s == 'L' ? 'left' : 'right'"}}, "encoding": {"x": {"field": "s", "type": "nominal", "scale": {"type": "point", "domain": ["L", "R"], "padding": 0}, "axis": null}, "text": {"field": "txt"}}}
]}
], "spacing": -2},
{"hconcat": [
{"spacing": 0, "vconcat": [
  {"width": 623, "height": 16, "data": {"values": [{"title": "Oberried/Oetztaler A. W (cm)"}]}, "mark": {"type": "text", "fontSize": 14, "dy": 1.5, "dx": -5, "color": "black"}, "encoding": {"text": {"field": "title"}}},
  {"width": 623, "height": 329, "data": {"values": [{"t": "1999-08-01T00:00", "w": 209, "k": "KANAL1"}]},
   "layer": [
    {"data": {"name": "oberried"}, "mark": {"type": "line", "color": "black", "strokeWidth": 1},
     "encoding": {
      "x": {"field": "t", "type": "temporal", "scale": {"domain": [{"year": 1999, "month": 8, "date": 1}, {"year": 1999, "month": 9, "date": 1}], "range": [89, 617]}, "axis": {"orient": "top", "offset": -7.5, "grid": true, "gridDash": [4, 3], "tickCount": {"interval": "day", "step": 1}, "labels": false, "title": null}},
      "y": {"field": "w", "type": "quantitative", "scale": {"domain": [100, 300], "range": [288.5, 7.5], "nice": false, "zero": false}, "axis": {"orient": "left", "offset": -89, "grid": true, "gridDash": [5, 2], "tickCount": 20, "labelPadding": 8, "title": null}}
     }},
    {"mark": {"type": "rule", "color": "black", "strokeWidth": 0.8, "x2Offset": 38, "y2Offset": -13}, "encoding": {"x": {"field": "t", "type": "temporal", "axis": null}, "x2": {"field": "t"}, "y": {"field": "w", "type": "quantitative", "axis": null}, "y2": {"field": "w"}}},
    {"mark": {"type": "rule", "color": "black", "strokeWidth": 0.8, "x2Offset": 38, "y2Offset": -4}, "encoding": {"x": {"field": "t", "type": "temporal", "axis": null}, "x2": {"field": "t"}, "y": {"field": "w", "type": "quantitative", "axis": null}, "y2": {"field": "w"}}},
    {"mark": {"type": "rect", "fill": "white", "stroke": "black", "strokeWidth": 0.8, "xOffset": 38, "x2Offset": 76, "yOffset": -13, "y2Offset": -4},
     "encoding": {
      "x": {"field": "t", "type": "temporal", "axis": {"orient": "bottom", "offset": -40.5, "values": [{"year": 1999, "month": 8, "date": 1}, {"year": 1999, "month": 8, "date": 6}, {"year": 1999, "month": 8, "date": 10}, {"year": 1999, "month": 8, "date": 14}, {"year": 1999, "month": 8, "date": 19}, {"year": 1999, "month": 8, "date": 23}, {"year": 1999, "month": 8, "date": 27}, {"year": 1999, "month": 9, "date": 1}], "labelExpr": "['00:00:00', timeFormat(datum.value, '%d.%m.%y')]", "labelFlush": true, "labelOverlap": false, "labelPadding": 6, "labelLineHeight": 8.5, "grid": false, "title": "1 Tage", "titleAnchor": "end", "titleAlign": "right", "titlePadding": 3}},
      "x2": {"field": "t"},
      "y": {"field": "w", "type": "quantitative", "axis": {"orient": "right", "offset": -6, "labels": false, "grid": false, "title": null}},
      "y2": {"field": "w"}
     }},
    {"mark": {"type": "text", "fontSize": 8, "dx": 57, "dy": -8.5, "color": "black"}, "encoding": {"x": {"field": "t", "type": "temporal", "axis": null}, "y": {"field": "w", "type": "quantitative", "axis": null}, "text": {"field": "k"}}}
   ],
   "resolve": {"axis": {"x": "independent", "y": "independent"}}},
  {"width": 623, "height": 6, "view": {"stroke": null}, "data": {"values": [{"s": "L", "txt": "mit B wasser datenerfassung"}, {"s": "R", "txt": "Hydrografie Innsbruck"}]}, "mark": {"type": "text", "font": "DejaVu Sans", "fontSize": 5.5, "fontWeight": "bold", "dy": -1, "color": "black", "align": {"expr": "datum.s == 'L' ? 'left' : 'right'"}}, "encoding": {"x": {"field": "s", "type": "nominal", "scale": {"type": "point", "domain": ["L", "R"], "padding": 0}, "axis": null}, "text": {"field": "txt"}}}
]},
{"spacing": 0, "vconcat": [
  {"width": 623, "height": 16, "data": {"values": [{"title": "Vent/Rofenache W (cm)"}]}, "mark": {"type": "text", "fontSize": 14, "dy": 1.5, "dx": -5, "color": "black"}, "encoding": {"text": {"field": "title"}}},
  {"width": 623, "height": 329, "data": {"values": [{"t": "1999-08-01T00:00", "w": 65, "k": "KANAL3"}]},
   "layer": [
    {"data": {"name": "vent"}, "mark": {"type": "line", "color": "black", "strokeWidth": 1},
     "encoding": {
      "x": {"field": "t", "type": "temporal", "scale": {"domain": [{"year": 1999, "month": 8, "date": 1}, {"year": 1999, "month": 9, "date": 1}], "range": [89, 617]}, "axis": {"orient": "top", "offset": -7.5, "grid": true, "gridDash": [4, 3], "tickCount": {"interval": "day", "step": 1}, "labels": false, "title": null}},
      "y": {"field": "w", "type": "quantitative", "scale": {"domain": [0, 200], "range": [288.5, 7.5], "nice": false, "zero": false}, "axis": {"orient": "left", "offset": -89, "grid": true, "gridDash": [5, 2], "tickCount": 20, "labelPadding": 8, "title": null}}
     }},
    {"mark": {"type": "rule", "color": "black", "strokeWidth": 0.8, "x2Offset": 38, "y2Offset": -19.5}, "encoding": {"x": {"field": "t", "type": "temporal", "axis": null}, "x2": {"field": "t"}, "y": {"field": "w", "type": "quantitative", "axis": null}, "y2": {"field": "w"}}},
    {"mark": {"type": "rule", "color": "black", "strokeWidth": 0.8, "x2Offset": 38, "y2Offset": -10.5}, "encoding": {"x": {"field": "t", "type": "temporal", "axis": null}, "x2": {"field": "t"}, "y": {"field": "w", "type": "quantitative", "axis": null}, "y2": {"field": "w"}}},
    {"mark": {"type": "rect", "fill": "white", "stroke": "black", "strokeWidth": 0.8, "xOffset": 38, "x2Offset": 76, "yOffset": -19.5, "y2Offset": -10.5},
     "encoding": {
      "x": {"field": "t", "type": "temporal", "axis": {"orient": "bottom", "offset": -40.5, "values": [{"year": 1999, "month": 8, "date": 1}, {"year": 1999, "month": 8, "date": 6}, {"year": 1999, "month": 8, "date": 10}, {"year": 1999, "month": 8, "date": 14}, {"year": 1999, "month": 8, "date": 19}, {"year": 1999, "month": 8, "date": 23}, {"year": 1999, "month": 8, "date": 27}, {"year": 1999, "month": 9, "date": 1}], "labelExpr": "['00:00:00', timeFormat(datum.value, '%d.%m.%y')]", "labelFlush": true, "labelOverlap": false, "labelPadding": 6, "labelLineHeight": 8.5, "grid": false, "title": "1 Tage", "titleAnchor": "end", "titleAlign": "right", "titlePadding": 3}},
      "x2": {"field": "t"},
      "y": {"field": "w", "type": "quantitative", "axis": {"orient": "right", "offset": -6, "labels": false, "grid": false, "title": null}},
      "y2": {"field": "w"}
     }},
    {"mark": {"type": "text", "fontSize": 8, "dx": 57, "dy": -15, "color": "black"}, "encoding": {"x": {"field": "t", "type": "temporal", "axis": null}, "y": {"field": "w", "type": "quantitative", "axis": null}, "text": {"field": "k"}}}
   ],
   "resolve": {"axis": {"x": "independent", "y": "independent"}}},
  {"width": 623, "height": 6, "view": {"stroke": null}, "data": {"values": [{"s": "L", "txt": "mit B wasser datenerfassung"}, {"s": "R", "txt": "Hydrografie Innsbruck"}]}, "mark": {"type": "text", "font": "DejaVu Sans", "fontSize": 5.5, "fontWeight": "bold", "dy": -1, "color": "black", "align": {"expr": "datum.s == 'L' ? 'left' : 'right'"}}, "encoding": {"x": {"field": "s", "type": "nominal", "scale": {"type": "point", "domain": ["L", "R"], "padding": 0}, "axis": null}, "text": {"field": "txt"}}}
]}
], "spacing": -2},
{"hconcat": [
{"spacing": 0, "vconcat": [
  {"width": 623, "height": 16, "data": {"values": [{"title": "Landeck/Sanna W (cm)"}]}, "mark": {"type": "text", "fontSize": 14, "dy": 1.5, "dx": -5, "color": "black"}, "encoding": {"text": {"field": "title"}}},
  {"width": 623, "height": 329, "data": {"values": [{"t": "1999-08-01T00:00", "w": 75, "k": "KANAL3"}]},
   "layer": [
    {"data": {"name": "landeck"}, "mark": {"type": "line", "color": "black", "strokeWidth": 1},
     "encoding": {
      "x": {"field": "t", "type": "temporal", "scale": {"domain": [{"year": 1999, "month": 8, "date": 1}, {"year": 1999, "month": 9, "date": 1}], "range": [89, 617]}, "axis": {"orient": "top", "offset": -7.5, "grid": true, "gridDash": [4, 3], "tickCount": {"interval": "day", "step": 1}, "labels": false, "title": null}},
      "y": {"field": "w", "type": "quantitative", "scale": {"domain": [0, 200], "range": [288.5, 7.5], "nice": false, "zero": false}, "axis": {"orient": "left", "offset": -89, "grid": true, "gridDash": [5, 2], "tickCount": 20, "labelPadding": 8, "title": null}}
     }},
    {"mark": {"type": "rule", "color": "black", "strokeWidth": 0.8, "x2Offset": 38, "y2Offset": -20}, "encoding": {"x": {"field": "t", "type": "temporal", "axis": null}, "x2": {"field": "t"}, "y": {"field": "w", "type": "quantitative", "axis": null}, "y2": {"field": "w"}}},
    {"mark": {"type": "rule", "color": "black", "strokeWidth": 0.8, "x2Offset": 38, "y2Offset": -11}, "encoding": {"x": {"field": "t", "type": "temporal", "axis": null}, "x2": {"field": "t"}, "y": {"field": "w", "type": "quantitative", "axis": null}, "y2": {"field": "w"}}},
    {"mark": {"type": "rect", "fill": "white", "stroke": "black", "strokeWidth": 0.8, "xOffset": 38, "x2Offset": 76, "yOffset": -20, "y2Offset": -11},
     "encoding": {
      "x": {"field": "t", "type": "temporal", "axis": {"orient": "bottom", "offset": -40.5, "values": [{"year": 1999, "month": 8, "date": 1}, {"year": 1999, "month": 8, "date": 6}, {"year": 1999, "month": 8, "date": 10}, {"year": 1999, "month": 8, "date": 14}, {"year": 1999, "month": 8, "date": 19}, {"year": 1999, "month": 8, "date": 23}, {"year": 1999, "month": 8, "date": 27}, {"year": 1999, "month": 9, "date": 1}], "labelExpr": "['00:00:00', timeFormat(datum.value, '%d.%m.%y')]", "labelFlush": true, "labelOverlap": false, "labelPadding": 6, "labelLineHeight": 8.5, "grid": false, "title": "1 Tage", "titleAnchor": "end", "titleAlign": "right", "titlePadding": 3}},
      "x2": {"field": "t"},
      "y": {"field": "w", "type": "quantitative", "axis": {"orient": "right", "offset": -6, "labels": false, "grid": false, "title": null}},
      "y2": {"field": "w"}
     }},
    {"mark": {"type": "text", "fontSize": 8, "dx": 57, "dy": -15.5, "color": "black"}, "encoding": {"x": {"field": "t", "type": "temporal", "axis": null}, "y": {"field": "w", "type": "quantitative", "axis": null}, "text": {"field": "k"}}}
   ],
   "resolve": {"axis": {"x": "independent", "y": "independent"}}},
  {"width": 623, "height": 6, "view": {"stroke": null}, "data": {"values": [{"s": "L", "txt": "mit B wasser datenerfassung"}, {"s": "R", "txt": "Hydrografie Innsbruck"}]}, "mark": {"type": "text", "font": "DejaVu Sans", "fontSize": 5.5, "fontWeight": "bold", "dy": -1, "color": "black", "align": {"expr": "datum.s == 'L' ? 'left' : 'right'"}}, "encoding": {"x": {"field": "s", "type": "nominal", "scale": {"type": "point", "domain": ["L", "R"], "padding": 0}, "axis": null}, "text": {"field": "txt"}}}
]},
{"spacing": 0, "vconcat": [
  {"width": 623, "height": 16, "data": {"values": [{"title": "St.Johann/Kitzb.A. W (cm)"}]}, "mark": {"type": "text", "fontSize": 14, "dy": 1.5, "dx": -5, "color": "black"}, "encoding": {"text": {"field": "title"}}},
  {"width": 623, "height": 329, "data": {"values": [{"t": "1999-08-01T00:00", "w": 109, "k": "KANAL1"}]},
   "layer": [
    {"data": {"name": "stjohann"}, "mark": {"type": "line", "color": "black", "strokeWidth": 1},
     "encoding": {
      "x": {"field": "t", "type": "temporal", "scale": {"domain": [{"year": 1999, "month": 8, "date": 1}, {"year": 1999, "month": 9, "date": 1}], "range": [89, 617]}, "axis": {"orient": "top", "offset": -7.5, "grid": true, "gridDash": [4, 3], "tickCount": {"interval": "day", "step": 1}, "labels": false, "title": null}},
      "y": {"field": "w", "type": "quantitative", "scale": {"domain": [50, 250], "range": [288.5, 7.5], "nice": false, "zero": false}, "axis": {"orient": "left", "offset": -89, "grid": true, "gridDash": [5, 2], "tickCount": 20, "labelPadding": 8, "title": null}}
     }},
    {"mark": {"type": "rule", "color": "black", "strokeWidth": 0.8, "x2Offset": 38, "y2Offset": -15}, "encoding": {"x": {"field": "t", "type": "temporal", "axis": null}, "x2": {"field": "t"}, "y": {"field": "w", "type": "quantitative", "axis": null}, "y2": {"field": "w"}}},
    {"mark": {"type": "rule", "color": "black", "strokeWidth": 0.8, "x2Offset": 38, "y2Offset": -6}, "encoding": {"x": {"field": "t", "type": "temporal", "axis": null}, "x2": {"field": "t"}, "y": {"field": "w", "type": "quantitative", "axis": null}, "y2": {"field": "w"}}},
    {"mark": {"type": "rect", "fill": "white", "stroke": "black", "strokeWidth": 0.8, "xOffset": 38, "x2Offset": 76, "yOffset": -15, "y2Offset": -6},
     "encoding": {
      "x": {"field": "t", "type": "temporal", "axis": {"orient": "bottom", "offset": -40.5, "values": [{"year": 1999, "month": 8, "date": 1}, {"year": 1999, "month": 8, "date": 6}, {"year": 1999, "month": 8, "date": 10}, {"year": 1999, "month": 8, "date": 14}, {"year": 1999, "month": 8, "date": 19}, {"year": 1999, "month": 8, "date": 23}, {"year": 1999, "month": 8, "date": 27}, {"year": 1999, "month": 9, "date": 1}], "labelExpr": "['00:00:00', timeFormat(datum.value, '%d.%m.%y')]", "labelFlush": true, "labelOverlap": false, "labelPadding": 6, "labelLineHeight": 8.5, "grid": false, "title": "1 Tage", "titleAnchor": "end", "titleAlign": "right", "titlePadding": 3}},
      "x2": {"field": "t"},
      "y": {"field": "w", "type": "quantitative", "axis": {"orient": "right", "offset": -6, "labels": false, "grid": false, "title": null}},
      "y2": {"field": "w"}
     }},
    {"mark": {"type": "text", "fontSize": 8, "dx": 57, "dy": -10.5, "color": "black"}, "encoding": {"x": {"field": "t", "type": "temporal", "axis": null}, "y": {"field": "w", "type": "quantitative", "axis": null}, "text": {"field": "k"}}}
   ],
   "resolve": {"axis": {"x": "independent", "y": "independent"}}},
  {"width": 623, "height": 6, "view": {"stroke": null}, "data": {"values": [{"s": "L", "txt": "mit B wasser datenerfassung"}, {"s": "R", "txt": "Hydrografie Innsbruck"}]}, "mark": {"type": "text", "font": "DejaVu Sans", "fontSize": 5.5, "fontWeight": "bold", "dy": -1, "color": "black", "align": {"expr": "datum.s == 'L' ? 'left' : 'right'"}}, "encoding": {"x": {"field": "s", "type": "nominal", "scale": {"type": "point", "domain": ["L", "R"], "padding": 0}, "axis": null}, "text": {"field": "txt"}}}
]}
], "spacing": -2},
{"hconcat": [
{"spacing": 0, "vconcat": [
  {"width": 623, "height": 16, "data": {"values": [{"title": "Almdorf/Fieberbrunner A. W(cm)"}]}, "mark": {"type": "text", "fontSize": 14, "dy": 1.5, "dx": -5, "color": "black"}, "encoding": {"text": {"field": "title"}}},
  {"width": 623, "height": 329, "data": {"values": [{"t": "1999-08-01T00:00", "w": 82, "k": "KANAL4"}]},
   "layer": [
    {"data": {"name": "almdorf"}, "mark": {"type": "line", "color": "black", "strokeWidth": 1},
     "encoding": {
      "x": {"field": "t", "type": "temporal", "scale": {"domain": [{"year": 1999, "month": 8, "date": 1}, {"year": 1999, "month": 9, "date": 1}], "range": [89, 617]}, "axis": {"orient": "top", "offset": -7.5, "grid": true, "gridDash": [4, 3], "tickCount": {"interval": "day", "step": 1}, "labels": false, "title": null}},
      "y": {"field": "w", "type": "quantitative", "scale": {"domain": [0, 320], "range": [288.5, 7.5], "nice": false, "zero": false}, "axis": {"orient": "left", "offset": -89, "grid": true, "gridDash": [5, 2], "values": [0, 16, 20, 32, 40, 48, 60, 64, 80, 96, 100, 112, 120, 128, 140, 144, 160, 176, 180, 192, 200, 208, 220, 224, 240, 256, 260, 272, 280, 288, 300, 304, 320], "labelExpr": "datum.value % 20 == 0 ? datum.label : ''", "gridOpacity": {"condition": {"test": "datum.value % 16 != 0", "value": 0}, "value": 1}, "labelPadding": 8, "title": null}}
     }},
    {"mark": {"type": "rule", "color": "black", "strokeWidth": 0.8, "x2Offset": 38, "y2Offset": -26}, "encoding": {"x": {"field": "t", "type": "temporal", "axis": null}, "x2": {"field": "t"}, "y": {"field": "w", "type": "quantitative", "axis": null}, "y2": {"field": "w"}}},
    {"mark": {"type": "rule", "color": "black", "strokeWidth": 0.8, "x2Offset": 38, "y2Offset": -17}, "encoding": {"x": {"field": "t", "type": "temporal", "axis": null}, "x2": {"field": "t"}, "y": {"field": "w", "type": "quantitative", "axis": null}, "y2": {"field": "w"}}},
    {"mark": {"type": "rect", "fill": "white", "stroke": "black", "strokeWidth": 0.8, "xOffset": 38, "x2Offset": 76, "yOffset": -26, "y2Offset": -17},
     "encoding": {
      "x": {"field": "t", "type": "temporal", "axis": {"orient": "bottom", "offset": -40.5, "values": [{"year": 1999, "month": 8, "date": 1}, {"year": 1999, "month": 8, "date": 6}, {"year": 1999, "month": 8, "date": 10}, {"year": 1999, "month": 8, "date": 14}, {"year": 1999, "month": 8, "date": 19}, {"year": 1999, "month": 8, "date": 23}, {"year": 1999, "month": 8, "date": 27}, {"year": 1999, "month": 9, "date": 1}], "labelExpr": "['00:00:00', timeFormat(datum.value, '%d.%m.%y')]", "labelFlush": true, "labelOverlap": false, "labelPadding": 6, "labelLineHeight": 8.5, "grid": false, "title": "1 Tage", "titleAnchor": "end", "titleAlign": "right", "titlePadding": 3}},
      "x2": {"field": "t"},
      "y": {"field": "w", "type": "quantitative", "axis": {"orient": "right", "offset": -6, "labels": false, "grid": false, "title": null}},
      "y2": {"field": "w"}
     }},
    {"mark": {"type": "text", "fontSize": 8, "dx": 57, "dy": -21.5, "color": "black"}, "encoding": {"x": {"field": "t", "type": "temporal", "axis": null}, "y": {"field": "w", "type": "quantitative", "axis": null}, "text": {"field": "k"}}}
   ],
   "resolve": {"axis": {"x": "independent", "y": "independent"}}},
  {"width": 623, "height": 6, "view": {"stroke": null}, "data": {"values": [{"s": "L", "txt": "mit B wasser datenerfassung"}, {"s": "R", "txt": "Hydrografie Innsbruck"}]}, "mark": {"type": "text", "font": "DejaVu Sans", "fontSize": 5.5, "fontWeight": "bold", "dy": -1, "color": "black", "align": {"expr": "datum.s == 'L' ? 'left' : 'right'"}}, "encoding": {"x": {"field": "s", "type": "nominal", "scale": {"type": "point", "domain": ["L", "R"], "padding": 0}, "axis": null}, "text": {"field": "txt"}}}
]},
{"spacing": 0, "vconcat": [
  {"width": 623, "height": 16, "data": {"values": [{"title": "Innsbruck/Sill W (cm)"}]}, "mark": {"type": "text", "fontSize": 14, "dy": 1.5, "dx": -5, "color": "black"}, "encoding": {"text": {"field": "title"}}},
  {"width": 623, "height": 329, "data": {"values": [{"t": "1999-08-01T00:00", "w": 115, "k": "KANAL1"}]},
   "layer": [
    {"data": {"name": "innsbruck"}, "mark": {"type": "line", "color": "black", "strokeWidth": 1},
     "encoding": {
      "x": {"field": "t", "type": "temporal", "scale": {"domain": [{"year": 1999, "month": 8, "date": 1}, {"year": 1999, "month": 9, "date": 1}], "range": [89, 617]}, "axis": {"orient": "top", "offset": -7.5, "grid": true, "gridDash": [4, 3], "tickCount": {"interval": "day", "step": 1}, "labels": false, "title": null}},
      "y": {"field": "w", "type": "quantitative", "scale": {"domain": [0, 200], "range": [288.5, 7.5], "nice": false, "zero": false}, "axis": {"orient": "left", "offset": -89, "grid": true, "gridDash": [5, 2], "tickCount": 20, "labelPadding": 8, "title": null}}
     }},
    {"mark": {"type": "rule", "color": "black", "strokeWidth": 0.8, "x2Offset": 38, "y2Offset": -21.5}, "encoding": {"x": {"field": "t", "type": "temporal", "axis": null}, "x2": {"field": "t"}, "y": {"field": "w", "type": "quantitative", "axis": null}, "y2": {"field": "w"}}},
    {"mark": {"type": "rule", "color": "black", "strokeWidth": 0.8, "x2Offset": 38, "y2Offset": -12.5}, "encoding": {"x": {"field": "t", "type": "temporal", "axis": null}, "x2": {"field": "t"}, "y": {"field": "w", "type": "quantitative", "axis": null}, "y2": {"field": "w"}}},
    {"mark": {"type": "rect", "fill": "white", "stroke": "black", "strokeWidth": 0.8, "xOffset": 38, "x2Offset": 76, "yOffset": -21.5, "y2Offset": -12.5},
     "encoding": {
      "x": {"field": "t", "type": "temporal", "axis": {"orient": "bottom", "offset": -40.5, "values": [{"year": 1999, "month": 8, "date": 1}, {"year": 1999, "month": 8, "date": 6}, {"year": 1999, "month": 8, "date": 10}, {"year": 1999, "month": 8, "date": 14}, {"year": 1999, "month": 8, "date": 19}, {"year": 1999, "month": 8, "date": 23}, {"year": 1999, "month": 8, "date": 27}, {"year": 1999, "month": 9, "date": 1}], "labelExpr": "['00:00:00', timeFormat(datum.value, '%d.%m.%y')]", "labelFlush": true, "labelOverlap": false, "labelPadding": 6, "labelLineHeight": 8.5, "grid": false, "title": "1 Tage", "titleAnchor": "end", "titleAlign": "right", "titlePadding": 3}},
      "x2": {"field": "t"},
      "y": {"field": "w", "type": "quantitative", "axis": {"orient": "right", "offset": -6, "labels": false, "grid": false, "title": null}},
      "y2": {"field": "w"}
     }},
    {"mark": {"type": "text", "fontSize": 8, "dx": 57, "dy": -17, "color": "black"}, "encoding": {"x": {"field": "t", "type": "temporal", "axis": null}, "y": {"field": "w", "type": "quantitative", "axis": null}, "text": {"field": "k"}}}
   ],
   "resolve": {"axis": {"x": "independent", "y": "independent"}}},
  {"width": 623, "height": 6, "view": {"stroke": null}, "data": {"values": [{"s": "L", "txt": "mit B wasser datenerfassung"}, {"s": "R", "txt": "Hydrografie Innsbruck"}]}, "mark": {"type": "text", "font": "DejaVu Sans", "fontSize": 5.5, "fontWeight": "bold", "dy": -1, "color": "black", "align": {"expr": "datum.s == 'L' ? 'left' : 'right'"}}, "encoding": {"x": {"field": "s", "type": "nominal", "scale": {"type": "point", "domain": ["L", "R"], "padding": 0}, "axis": null}, "text": {"field": "txt"}}}
]}
], "spacing": -2}
]
}
